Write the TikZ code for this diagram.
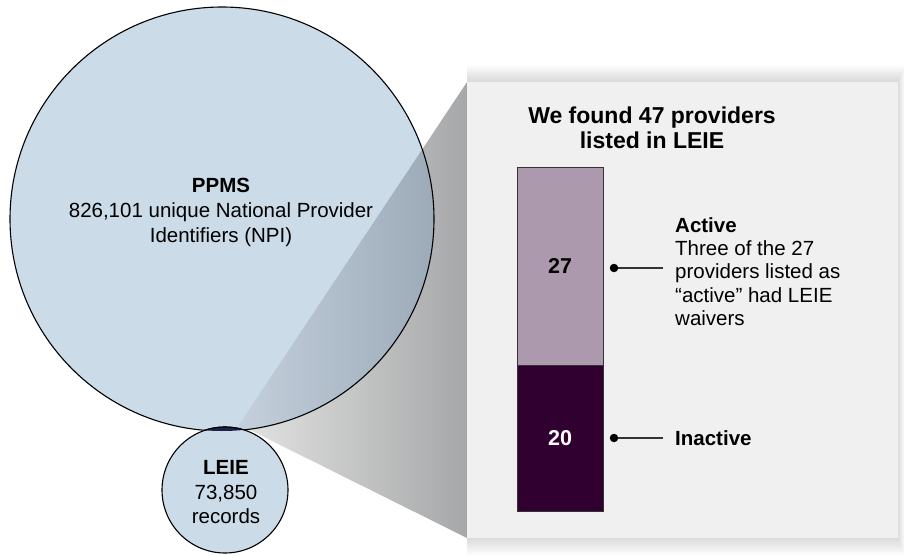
\documentclass[tikz,border=0pt]{standalone}
\usepackage{fontspec}
\setmainfont{Liberation Sans}
\definecolor{circblue}{RGB}{204,219,232}
\definecolor{panelgray}{RGB}{240,240,240}
\definecolor{bartop}{RGB}{173,153,174}
\definecolor{barbot}{RGB}{48,0,48}
\definecolor{lensnavy}{RGB}{24,36,70}
\definecolor{funL}{RGB}{228,228,228}
\definecolor{funR}{RGB}{166,167,168}
\definecolor{funCL}{RGB}{196,208,220}
\definecolor{funCR}{RGB}{150,164,178}
\definecolor{leader}{RGB}{51,51,51}
\tikzset{
  txt/.style={inner sep=0pt, text=black},
  barbox/.style={draw=leader, line width=0.8pt, minimum width=86pt, inner sep=0pt, font=\fontsize{21.5}{24}\selectfont\bfseries},
  dot/.style={circle, fill=black, inner sep=0pt, minimum size=8.5pt},
  lead/.style={draw=leader, line width=1.1pt},
}
\begin{document}
\begin{tikzpicture}[x=1pt,y=-1pt]
\useasboundingbox (0,0) rectangle (904,556);
% panel soft shadow
\foreach \i in {1,...,18}{
  \fill[black, fill opacity=0.007] (467, 82-\i*0.95) rectangle (898+\i*0.4, 538+\i*1.0);
}
% funnel
\coordinate (fA) at (237,428);
\coordinate (fB) at (467,82);
\coordinate (fC) at (467,538);
\coordinate (fD) at (252,431);
\shade[left color=funL, right color=funR] (fA) -- (fB) -- (fC) -- (fD) -- cycle;
% big circle
\fill[circblue] (222,219) circle (212);
\begin{scope}
  \clip (222,219) circle (212);
  \shade[left color=funCL, right color=funCR] (fA) -- (fB) -- (fC) -- (fD) -- cycle;
\end{scope}
\draw[black, line width=1.1pt] (222,219) circle (212);
% small circle
\filldraw[fill=circblue, draw=black, line width=1.1pt] (225,490) circle (63);
\begin{scope}
  \clip (222,219) circle (212);
  \filldraw[fill=lensnavy, draw=black, line width=1.1pt] (225,490) circle (63);
\end{scope}
% panel
\fill[panelgray] (467,82) rectangle (898,538);
% texts left
\node[txt, align=center, font=\fontsize{20.5}{25.3}\selectfont] (ppmstxt) at (221,212.5)
  {\textbf{PPMS}\\826,101 unique National Provider\\Identifiers (NPI)};
\node[txt, align=center, font=\fontsize{20.5}{24.5}\selectfont] (leietxt) at (226,492.5)
  {\textbf{LEIE}\\73,850\\records};
% title
\node[txt, align=center, font=\fontsize{23}{25}\selectfont\bfseries] (title) at (652,127.5)
  {We found 47 providers\\listed in LEIE};
% bar
\node[barbox, fill=bartop, minimum height=198pt] (active) at (560,266) {27};
\node[barbox, fill=barbot, minimum height=146pt, text=white] (inactive) at (560,438) {20};
% leaders
\node[dot] (d1) at (614,268) {};
\coordinate (e1) at (663,268);
\draw[lead] (d1) -- (e1);
\node[dot] (d2) at (614,438) {};
\coordinate (e2) at (663,438);
\draw[lead] (d2) -- (e2);
% labels
\node[txt, anchor=west, align=left, font=\fontsize{20.5}{23.3}\selectfont] (activelbl) at (675,271.5)
  {\textbf{Active}\\Three of the 27\\providers listed as\\``active'' had LEIE\\waivers};
\node[txt, anchor=west, font=\fontsize{20.5}{24}\selectfont\bfseries] (inactivelbl) at (675,438) {Inactive};
\end{tikzpicture}
\end{document}
